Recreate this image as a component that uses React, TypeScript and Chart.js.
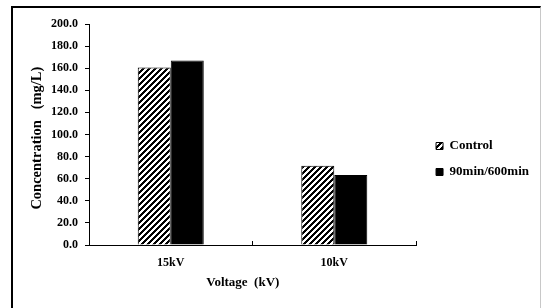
import React, { useEffect, useRef } from 'react';
import { Chart, registerables } from 'chart.js';

Chart.register(...registerables);

const categories = ['15kV', '10kV'];
const seriesNames = ['Control', '90min/600min'];
const controlValues = [160.6, 71.8];
const treatedValues = [166.9, 63.3];
const yMin = 0;
const yMax = 200;
const yStep = 20;
const xTitle = 'Voltage  (kV)      ';
const yTitle = 'Concentration   (mg/L)  ';

const FONT = "'Liberation Serif', 'Times New Roman', Times, serif";

function makeHatch(): CanvasPattern | string {
  const p = 6;
  const c = document.createElement('canvas');
  c.width = p;
  c.height = p;
  const ctx = c.getContext('2d');
  if (!ctx) return '#888';
  const img = ctx.createImageData(p, p);
  for (let y = 0; y < p; y++) {
    for (let x = 0; x < p; x++) {
      const k = (x + y) % p;
      const v = k < 3 ? 0 : 255;
      const i = (y * p + x) * 4;
      img.data[i] = v;
      img.data[i + 1] = v;
      img.data[i + 2] = v;
      img.data[i + 3] = 255;
    }
  }
  ctx.putImageData(img, 0, 0);
  return ctx.createPattern(c, 'repeat') || '#888';
}

export default function App() {
  const ref = useRef<HTMLCanvasElement | null>(null);

  useEffect(() => {
    if (!ref.current) return;
    const hatch = makeHatch();
    const tickFont = { family: FONT, size: 12, weight: 'bold' as const };
    const xTitleFont = { family: FONT, size: 13, weight: 'bold' as const };
    const yTitleFont = { family: FONT, size: 14.5, weight: 'bold' as const };
    const chart = new Chart(ref.current, {
      type: 'bar',
      data: {
        labels: categories,
        datasets: [
          {
            label: seriesNames[0],
            data: controlValues,
            backgroundColor: hatch as any,
            borderColor: '#000',
            borderWidth: 1,
            categoryPercentage: 0.4037,
            barPercentage: 1,
          },
          {
            label: seriesNames[1],
            data: treatedValues,
            backgroundColor: '#000',
            borderColor: '#000',
            borderWidth: 1,
            categoryPercentage: 0.4037,
            barPercentage: 1,
          },
        ],
      },
      options: {
        responsive: false,
        animation: false,
        devicePixelRatio: 1,
        layout: { padding: { top: 24, left: 0, right: 2, bottom: 14 } },
        plugins: {
          legend: {
            position: 'right',
            align: 'center',
            maxWidth: 140,
            labels: {
              boxWidth: 7,
              boxHeight: 7,
              padding: 13,
              color: '#000',
              font: { family: FONT, size: 13, weight: 'bold' },
            },
          },
          tooltip: { enabled: false },
        },
        scales: {
          x: {
            grid: {
              display: true,
              drawOnChartArea: false,
              drawTicks: true,
              tickLength: -4,
              color: '#000',
              offset: true,
            },
            border: { display: true, color: '#000', width: 1 },
            ticks: { color: '#000', padding: 15, font: tickFont },
            title: {
              display: true,
              text: xTitle,
              color: '#000',
              font: xTitleFont,
              padding: { top: 0, bottom: 4 },
            },
            afterFit: (s: any) => {
              s.height = 49;
            },
          },
          y: {
            min: yMin,
            max: yMax,
            ticks: {
              stepSize: yStep,
              color: '#000',
              padding: 7,
              font: tickFont,
              callback: (v: any) => Number(v).toFixed(1),
            },
            grid: { drawOnChartArea: false, drawTicks: true, tickLength: 4, color: '#000' },
            border: { display: true, color: '#000', width: 1 },
            title: {
              display: true,
              text: yTitle,
              color: '#000',
              font: yTitleFont,
              padding: { top: 29, bottom: 0 },
            },
            afterFit: (s: any) => {
              s.width = 89;
            },
          },
          spacer: {
            type: 'linear',
            position: 'right',
            display: true,
            grid: { display: false },
            border: { display: false },
            ticks: { display: false },
            afterFit: (s: any) => {
              s.width = 7;
            },
          },
        },
      } as any,
    });
    return () => chart.destroy();
  }, []);

  return (
    <div
      style={{
        position: 'fixed',
        left: 0,
        top: 0,
        width: 541,
        height: 308,
        overflow: 'hidden',
        background: '#fff',
      }}
    >
      <div
        style={{
          position: 'absolute',
          left: 11,
          top: 6,
          width: 530,
          height: 330,
          boxSizing: 'border-box',
          borderLeft: '2px solid #000',
          borderTop: '2px solid #000',
          borderRight: '1px solid #c8c8c8',
        }}
      />
      <canvas
        ref={ref}
        width={541}
        height={308}
        style={{ position: 'absolute', left: 0, top: 0, width: 541, height: 308 }}
      />
    </div>
  );
}
